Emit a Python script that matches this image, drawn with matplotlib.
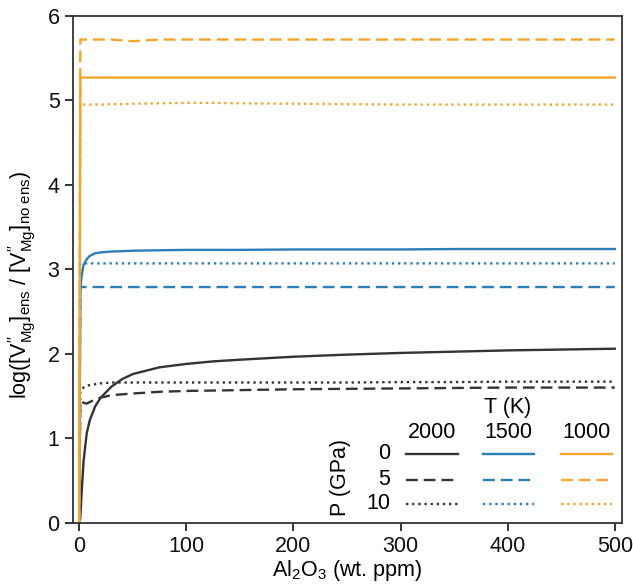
import numpy as np
import matplotlib
matplotlib.use("Agg")
import matplotlib.pyplot as plt

plt.rcParams['font.family'] = ['Liberation Sans', 'DejaVu Sans']
plt.rcParams['mathtext.fontset'] = 'custom'
plt.rcParams['mathtext.rm'] = 'Liberation Sans'
plt.rcParams['mathtext.it'] = 'Liberation Sans:italic'
plt.rcParams['mathtext.bf'] = 'Liberation Sans:bold'

# Al2O3 content (wt. ppm)
al2o3 = [0, 1, 2, 4, 7, 10, 15, 20, 30, 40, 50, 75, 100, 125, 150, 200, 250, 300, 350, 400, 450, 500]

# log ratio, one list per (T, P)
t2000_p0 = [0, 0.05, 0.3, 0.72, 1.06, 1.22, 1.38, 1.48, 1.61, 1.70, 1.76, 1.84, 1.88, 1.91, 1.93, 1.965, 1.99, 2.01, 2.025, 2.04, 2.05, 2.06]
t2000_p5 = [0, 1.44, 1.44, 1.42, 1.41, 1.43, 1.46, 1.48, 1.51, 1.52, 1.53, 1.55, 1.56, 1.565, 1.57, 1.58, 1.585, 1.59, 1.595, 1.60, 1.60, 1.60]
t2000_p10 = [0, 1.55, 1.58, 1.60, 1.62, 1.63, 1.64, 1.65, 1.66, 1.66, 1.66, 1.66, 1.66, 1.66, 1.66, 1.66, 1.66, 1.665, 1.665, 1.67, 1.67, 1.67]
t1500_p0 = [0, 2.75, 2.9, 3.05, 3.12, 3.16, 3.19, 3.20, 3.21, 3.215, 3.22, 3.225, 3.23, 3.23, 3.23, 3.235, 3.235, 3.235, 3.24, 3.24, 3.24, 3.24]
t1500_p5 = [0, 2.79, 2.79, 2.79, 2.79, 2.79, 2.79, 2.79, 2.79, 2.79, 2.79, 2.79, 2.79, 2.79, 2.79, 2.79, 2.79, 2.79, 2.79, 2.79, 2.79, 2.79]
t1500_p10 = [0, 3.07, 3.07, 3.07, 3.07, 3.07, 3.07, 3.07, 3.07, 3.07, 3.07, 3.07, 3.07, 3.07, 3.07, 3.07, 3.07, 3.07, 3.07, 3.07, 3.07, 3.07]
t1000_p0 = [0, 5.27, 5.27, 5.27, 5.27, 5.27, 5.27, 5.27, 5.27, 5.27, 5.27, 5.27, 5.27, 5.27, 5.27, 5.27, 5.27, 5.27, 5.27, 5.27, 5.27, 5.27]
t1000_p5 = [0, 5.72, 5.72, 5.72, 5.72, 5.72, 5.72, 5.72, 5.72, 5.71, 5.70, 5.72, 5.72, 5.72, 5.72, 5.72, 5.72, 5.72, 5.72, 5.72, 5.72, 5.72]
t1000_p10 = [0, 4.97, 4.95, 4.95, 4.95, 4.95, 4.95, 4.95, 4.955, 4.955, 4.96, 4.965, 4.97, 4.97, 4.965, 4.96, 4.955, 4.95, 4.95, 4.95, 4.95, 4.95]

temps = ['2000', '1500', '1000']
pressures = ['0', '5', '10']
series = [[t2000_p0, t2000_p5, t2000_p10],
          [t1500_p0, t1500_p5, t1500_p10],
          [t1000_p0, t1000_p5, t1000_p10]]

colors = ['#333333', '#2b7fb8', '#f0a629']
styles = ['-', (0, (5, 2.5)), (0, (1, 1.6))]

fig = plt.figure(figsize=(6.33, 5.88), dpi=100)
ax = fig.add_axes([0.115, 0.111, 0.868, 0.862])

for ti in range(len(temps)):
	for pi in range(len(pressures)):
		ax.plot(al2o3, series[ti][pi], color=colors[ti], linestyle=styles[pi], lw=1.7)

fs = 15.5
ax.set_xlim(-6, 507)
ax.set_ylim(0, 6)
ax.set_xticks([0, 100, 200, 300, 400, 500])
ax.set_yticks([0, 1, 2, 3, 4, 5, 6])
ax.tick_params(direction='out', length=6, width=1.2, labelsize=fs, colors='#111111')
for s in ax.spines.values():
	s.set_linewidth(1.3)
	s.set_color('#333333')

ax.set_xlabel(r'Al$_2$O$_3$ (wt. ppm)', fontsize=fs, labelpad=1)
ax.set_ylabel(r"log([V$^{\prime\prime}_{\rm Mg}$]$_{\rm ens}$ / "
              r"[V$^{\prime\prime}_{\rm Mg}$]$_{\rm no\ ens}$)", fontsize=fs)
ax.yaxis.set_label_coords(-0.063, 0.47)

# hand-built table legend: T across, P down
col_x = [0.654, 0.793, 0.935]
row_y = [0.136, 0.085, 0.0375]
half = 0.047
tr = ax.transAxes
ax.text(0.792, 0.227, 'T (K)', transform=tr, ha='center', va='center', fontsize=fs)
ax.text(0.487, 0.09, 'P (GPa)', transform=tr, ha='center', va='center', rotation=90, fontsize=fs)
for ti, t in enumerate(temps):
	ax.text(col_x[ti], 0.1775, t, transform=tr, ha='center', va='center', fontsize=fs)
	for pi, p in enumerate(pressures):
		ax.plot([col_x[ti] - half, col_x[ti] + half], [row_y[pi], row_y[pi]], transform=tr,
		        color=colors[ti], linestyle=styles[pi], lw=1.7)
for pi, p in enumerate(pressures):
	ax.text(0.578, row_y[pi], p, transform=tr, ha='right', va='center', fontsize=fs)

fig.savefig('out.png', dpi=100)
